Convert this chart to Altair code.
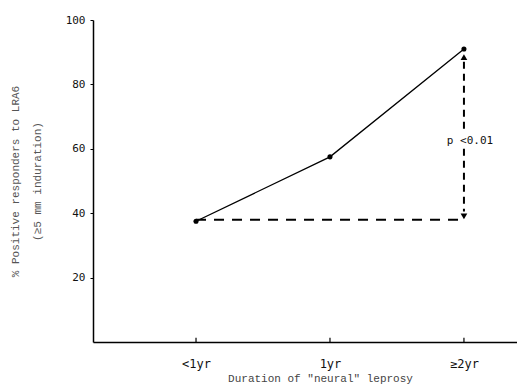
import altair as alt
import pandas as pd

# ---- data ----
categories = ["<1yr", "1yr", "\u22652yr"]
cat_index = [0, 1, 2]
pct_positive = [37.5, 57.5, 91.0]

baseline_level = [38.0]            # dashed horizontal comparison level
sig_top = [88.5]                   # upper arrow tip
sig_bottom = [39.0]                # lower arrow tip
sig_gap = [65.0, 60.0]             # gap in the dashed line around the label
sig_label = ["p <0.01"]
y_ticks = [20, 40, 60, 80, 100]

mono = "Liberation Mono"

df = pd.DataFrame({"x": cat_index, "y": pct_positive, "cat": categories})
df_h = pd.DataFrame({"x": [cat_index[0]], "x2": [cat_index[2]], "y": baseline_level})
df_v = pd.DataFrame({"x": [cat_index[2], cat_index[2]],
                     "y": [sig_top[0] - 1.5, sig_gap[1]],
                     "y2": [sig_gap[0], sig_bottom[0] + 1.5]})
df_up = pd.DataFrame({"x": [cat_index[2]], "y": sig_top})
df_dn = pd.DataFrame({"x": [cat_index[2]], "y": sig_bottom})
df_lab = pd.DataFrame({"x": [cat_index[2]], "y": [(sig_gap[0] + sig_gap[1]) / 2], "t": sig_label})
df_tk = pd.DataFrame({"x": cat_index, "y": [0] * 3, "y2": [1.3] * 3})

label_expr = " : ".join(
    f"datum.value == {i} ? '{c}'" for i, c in zip(cat_index, categories)
) + " : ''"

xscale = alt.Scale(domain=[-0.769, 2.396], nice=False, zero=False)
yscale = alt.Scale(domain=[0, 100], nice=False)

xaxis = alt.Axis(values=cat_index, labelExpr=label_expr, ticks=False, grid=False,
                 title='Duration of "neural" leprosy', titleFont=mono, titleFontSize=11,
                 titleFontWeight="normal", titleColor="#444", titlePadding=3,
                 titleX=227, titleAlign="center",
                 labelFont="DejaVu Sans Mono", labelFontSize=12, labelColor="#111",
                 labelPadding=16, domainColor="#000", domainWidth=1.5)
yaxis = alt.Axis(values=y_ticks, grid=False, tickSize=3, tickColor="#000",
                 title=["% Positive responders to LRA6", "(\u22655 mm induration)"],
                 titleFont=mono, titleFontSize=11, titleFontWeight="normal",
                 titleColor="#555", titlePadding=23, titleLineHeight=22,
                 labelFont="DejaVu Sans Mono", labelFontSize=11, labelColor="#111",
                 labelPadding=5, domainColor="#000", domainWidth=1.5)


def X(field="x"):
    return alt.X(f"{field}:Q", scale=xscale, axis=xaxis)


def Y(field="y"):
    return alt.Y(f"{field}:Q", scale=yscale, axis=yaxis)


line = alt.Chart(df).mark_line(color="#000", strokeWidth=1.3).encode(x=X(), y=Y())
pts = alt.Chart(df).mark_circle(color="#000", size=26, opacity=1).encode(x=X(), y=Y())

hdash = alt.Chart(df_h).mark_rule(color="#000", strokeWidth=2, strokeDash=[10, 8]).encode(
    x=X(), x2="x2:Q", y=Y())
vdash = alt.Chart(df_v).mark_rule(color="#000", strokeWidth=2, strokeDash=[7, 5]).encode(
    x=X(), y=Y(), y2="y2:Q")
up = alt.Chart(df_up).mark_point(shape="triangle-up", filled=True, color="#000",
                                 size=45, opacity=1).encode(x=X(), y=Y())
dn = alt.Chart(df_dn).mark_point(shape="triangle-down", filled=True, color="#000",
                                 size=45, opacity=1).encode(x=X(), y=Y())
lab = alt.Chart(df_lab).mark_text(font="DejaVu Sans Mono", fontSize=11, color="#111",
                                  align="center", baseline="middle", dx=6).encode(
    x=X(), y=Y(), text="t:N")
ticks = alt.Chart(df_tk).mark_rule(color="#000", strokeWidth=1.2).encode(
    x=X(), y=Y(), y2="y2:Q")

chart = alt.layer(ticks, hdash, vdash, up, dn, line, pts, lab).properties(
    width=424, height=322,
    autosize=alt.AutoSizeParams(type="none"),
    padding={"left": 85, "top": 12, "right": 0, "bottom": 42},
    background="white",
).configure_view(stroke=None)

chart.save("out.html", embed_options={"renderer": "svg", "actions": False})
